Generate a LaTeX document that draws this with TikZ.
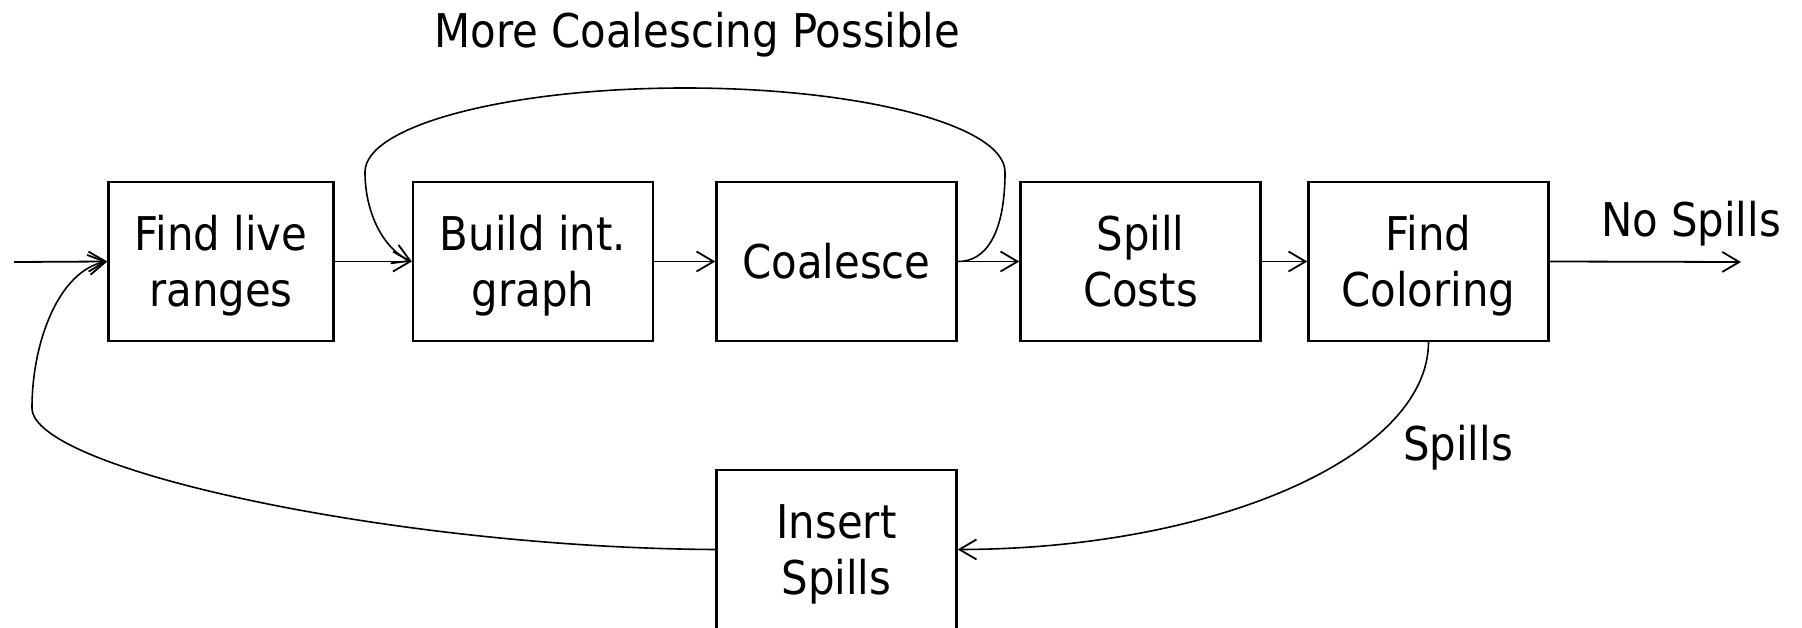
\documentclass[tikz,border=0pt]{standalone}
\usepackage{fontspec}
\setmainfont{DejaVu Sans Condensed}
\usetikzlibrary{arrows.meta}
\begin{document}
\begin{tikzpicture}[x=1pt,y=-1pt,
  stepbox/.style={draw,line width=2.4pt,minimum width=240pt,minimum height=159pt,inner sep=0pt,align=center,
    font=\fontsize{46.5}{56}\selectfont,text height=90pt,text depth=0pt},
  oneline/.style={text height=34pt},
  lbl/.style={inner sep=0pt,font=\fontsize{46.5}{56}\selectfont},
  conn/.style={line width=1.8pt,-{Straight Barb[length=17pt,width=20pt,line width=1.8pt]}},
  loop/.style={line width=1.6pt,-{Straight Barb[length=17pt,width=20pt,line width=1.8pt]}}]
\useasboundingbox (0,0) rectangle (1802,628);
\node[stepbox,minimum width=225pt] (b1) at (221,261.5) {Find live\\ranges};
\node[stepbox] (b2) at (533,261.5) {Build int.\\graph};
\node[stepbox,oneline] (b3) at (836.5,261.5) {Coalesce};
\node[stepbox] (b4) at (1140.5,261.5) {Spill\\Costs};
\node[stepbox] (b5) at (1428.5,261.5) {Find\\Coloring};
\node[stepbox] (b6) at (836.5,549.5) {Insert\\Spills};
\coordinate (in) at (14,262);
\coordinate (out) at (1741,262);
\draw[conn] (in) -- (b1.west);
\draw[conn] (b1.east) -- (b2.west);
\draw[conn] (b2.east) -- (b3.west);
\draw[conn] (b3.east) -- (b4.west);
\draw[conn] (b4.east) -- (b5.west);
\draw[conn] (b5.east) -- (out);
\draw[loop] (b3.east) .. controls (985,262) and (1005,235) .. (1005,172)
  .. controls (1005,125.6) and (862,88) .. (685,88)
  .. controls (508,88) and (365,125.6) .. (365,172)
  .. controls (365,215) and (385,250) .. (b2.west);
\draw[loop] (b5.south) .. controls (1428,456) and (1216,549) .. (b6.east);
\draw[loop] (b6.west) .. controls (400,548) and (32,470) .. (32,408)
  .. controls (32,340) and (60,270) .. (b1.west);
\node[lbl] (t1) at (697.5,35) {More Coalescing Possible};
\node[lbl] (t2) at (1691,224) {No Spills};
\node[lbl] (t3) at (1458,448) {Spills};
\end{tikzpicture}
\end{document}
